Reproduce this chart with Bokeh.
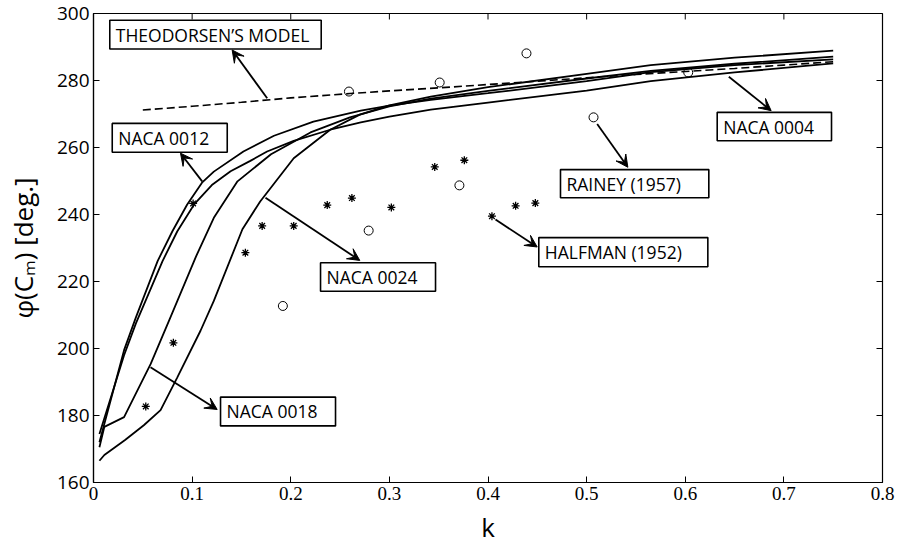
from bokeh.plotting import figure
from bokeh.models import Range1d, FixedTicker, Arrow, VeeHead, Label
from bokeh.embed import file_html
from bokeh.resources import INLINE

# ---------------- data ----------------
k_0012 = [0.006, 0.031, 0.043, 0.065, 0.08, 0.095, 0.11, 0.122, 0.152, 0.183, 0.223, 0.271, 0.30, 0.342, 0.40, 0.50, 0.565, 0.65, 0.75]
phi_0012 = [172.0, 199.5, 209.3, 226.1, 235.0, 243.0, 249.5, 252.8, 258.8, 263.5, 267.7, 271.0, 272.5, 274.2, 276.2, 279.8, 282.5, 284.6, 286.3]

k_0004 = [0.006, 0.031, 0.043, 0.07, 0.085, 0.102, 0.12, 0.139, 0.159, 0.176, 0.203, 0.24, 0.271, 0.30, 0.342, 0.40, 0.50, 0.565, 0.65, 0.75]
phi_0004 = [174.5, 198.0, 207.5, 226.1, 235.0, 243.0, 248.8, 252.9, 256.0, 258.8, 262.0, 265.3, 267.5, 269.2, 271.3, 273.4, 277.0, 279.8, 282.4, 285.1]

k_0018 = [0.006, 0.011, 0.031, 0.058, 0.078, 0.104, 0.122, 0.146, 0.18, 0.22, 0.26, 0.30, 0.342, 0.40, 0.50, 0.565, 0.65, 0.75]
phi_0018 = [170.5, 176.6, 179.5, 195.4, 209.3, 227.5, 239.0, 249.9, 258.0, 264.5, 269.0, 272.3, 274.6, 276.9, 280.6, 282.9, 285.0, 287.1]

k_0024 = [0.006, 0.011, 0.032, 0.051, 0.068, 0.085, 0.1085, 0.122, 0.151, 0.169, 0.203, 0.24, 0.27, 0.30, 0.342, 0.40, 0.50, 0.565, 0.65, 0.75]
phi_0024 = [166.5, 168.2, 172.7, 177.1, 181.6, 191.4, 205.3, 214.2, 235.6, 243.9, 256.8, 265.3, 269.8, 272.6, 275.2, 278.0, 282.0, 284.6, 286.8, 288.9]

k_theo = [0.05, 0.1, 0.15, 0.2, 0.26, 0.3, 0.35, 0.4, 0.45, 0.5, 0.55, 0.6, 0.65, 0.7, 0.75]
phi_theo = [271.2, 272.3, 273.5, 274.8, 276.1, 276.9, 277.8, 278.8, 279.8, 280.8, 281.8, 282.7, 283.6, 284.6, 285.6]

k_rainey = [0.192, 0.259, 0.279, 0.351, 0.371, 0.439, 0.507, 0.603]
phi_rainey = [212.7, 276.7, 235.2, 279.4, 248.7, 288.1, 269.0, 282.4]

k_halfman = [0.053, 0.081, 0.101, 0.154, 0.171, 0.203, 0.237, 0.262, 0.302, 0.346, 0.376, 0.404, 0.428, 0.448]
phi_halfman = [182.7, 201.7, 243.3, 228.6, 236.6, 236.6, 242.8, 244.9, 242.1, 254.2, 256.2, 239.5, 242.6, 243.4]

x_ticks = [0, 0.1, 0.2, 0.3, 0.4, 0.5, 0.6, 0.7, 0.8]
x_tick_labels = ["0", "0.1", "0.2", "0.3", "0.4", "0.5", "0.6", "0.7", "0.8"]
y_ticks = [160, 180, 200, 220, 240, 260, 280, 300]
y_tick_labels = ["160", "180", "200", "220", "240", "260", "280", "300"]

# annotation boxes: text, box left/right/top/bottom, arrow start -> arrow end (data units)
annotations = [
    ("THEODORSEN\u2019S MODEL", 0.0165, 0.2309, 298.0, 289.4, (0.1761, 274.7), (0.1406, 289.1)),
    ("NACA 0012", 0.0190, 0.1356, 267.2, 258.6, (0.1102, 249.9), (0.0882, 258.3)),
    ("NACA 0018", 0.1288, 0.2454, 185.5, 176.9, (0.0578, 194.4), (0.1254, 181.8)),
    ("NACA 0024", 0.2302, 0.3468, 225.6, 217.1, (0.1744, 245.0), (0.2700, 226.3)),
    ("NACA 0004", 0.6324, 0.7483, 270.5, 262.0, (0.6442, 281.1), (0.6871, 271.0)),
    ("RAINEY (1957)", 0.4735, 0.6239, 253.4, 245.0, (0.5107, 267.0), (0.5418, 254.1)),
    ("HALFMAN (1952)", 0.4515, 0.6229, 233.1, 224.4, (0.4076, 238.5), (0.4499, 230.3)),
]

FONT = "Open Sans"
X0, X1 = 0, 0.8
Y0, Y1 = 160, 300
PX_X = 986.25   # pixels per unit k
PX_Y = 3.355    # pixels per degree

p = figure(width=903, height=552, x_range=Range1d(X0, X1), y_range=Range1d(Y0, Y1),
           output_backend="svg", toolbar_location=None, title=None,
           min_border_left=93, min_border_right=21, min_border_top=13, min_border_bottom=70)
p.xgrid.visible = False
p.ygrid.visible = False
p.outline_line_color = "black"
p.outline_line_width = 1.2
p.background_fill_color = "white"
p.border_fill_color = "white"

# axes
for ax in p.xaxis:
    ax.ticker = FixedTicker(ticks=x_ticks)
    ax.major_label_overrides = {t: l for t, l in zip(x_ticks, x_tick_labels)}
    ax.axis_label = "k"
for ax in p.yaxis:
    ax.ticker = FixedTicker(ticks=y_ticks)
    ax.major_label_overrides = {t: l for t, l in zip(y_ticks, y_tick_labels)}
    ax.axis_label = "\u03c6(C\u2098) [deg.]"

for ax in list(p.xaxis) + list(p.yaxis):
    ax.major_tick_in = 6
    ax.major_tick_out = 0
    ax.minor_tick_in = 0
    ax.minor_tick_out = 0
    ax.axis_line_color = "black"
    ax.axis_line_width = 1.2
    ax.major_tick_line_color = "black"
    ax.major_tick_line_width = 1
    ax.major_label_text_font = FONT
    ax.major_label_text_color = "black"
    ax.major_label_standoff = 4
    ax.axis_label_text_font = FONT
    ax.axis_label_text_font_style = "normal"
    ax.axis_label_text_color = "black"

p.xaxis.major_label_text_font_size = "19px"
p.xaxis.major_label_text_font = "Liberation Sans Narrow"
p.yaxis.major_label_text_font_size = "19px"
p.xaxis.axis_label_text_font_size = "26px"
p.xaxis.axis_label_standoff = 6
p.yaxis.axis_label_text_font_size = "26px"
p.yaxis.axis_label_standoff = 13

# mirrored ticks on the top and right edges of the box
tick_len_y = 6 / PX_Y
tick_len_x = 6 / PX_X
p.segment(x0=x_ticks, y0=[Y1] * len(x_ticks), x1=x_ticks, y1=[Y1 - tick_len_y] * len(x_ticks),
          line_color="black", line_width=1)
p.segment(x0=[X1] * len(y_ticks), y0=y_ticks, x1=[X1 - tick_len_x] * len(y_ticks), y1=y_ticks,
          line_color="black", line_width=1)

# curves
for kk, ph in [(k_0012, phi_0012), (k_0004, phi_0004), (k_0018, phi_0018), (k_0024, phi_0024)]:
    p.line(kk, ph, line_color="black", line_width=1.8)
p.line(k_theo, phi_theo, line_color="black", line_width=1.6, line_dash="8 4")

# experimental points
p.scatter(k_rainey, phi_rainey, marker="circle", size=9, fill_color=None,
          line_color="black", line_width=1)
p.scatter(k_halfman, phi_halfman, marker="asterisk", size=8,
          line_color="black", line_width=1.3)

# annotation boxes and arrows
pad = 6 / PX_X
for text, l, r, t, b, a0, a1 in annotations:
    p.quad(left=[l], right=[r], top=[t], bottom=[b], fill_color="white",
           line_color="black", line_width=1.6)
    p.add_layout(Label(x=l + pad, y=(t + b) / 2, text=text, text_font=FONT,
                       text_font_size="17.5px", text_align="left", text_baseline="middle",
                       text_color="black"))
    p.add_layout(Arrow(x_start=a0[0], y_start=a0[1], x_end=a1[0], y_end=a1[1],
                       line_color="black", line_width=1.8,
                       end=VeeHead(size=12, fill_color="black", line_color="black",
                                   line_width=1)))

open("out.html", "w").write(file_html(p, INLINE))
